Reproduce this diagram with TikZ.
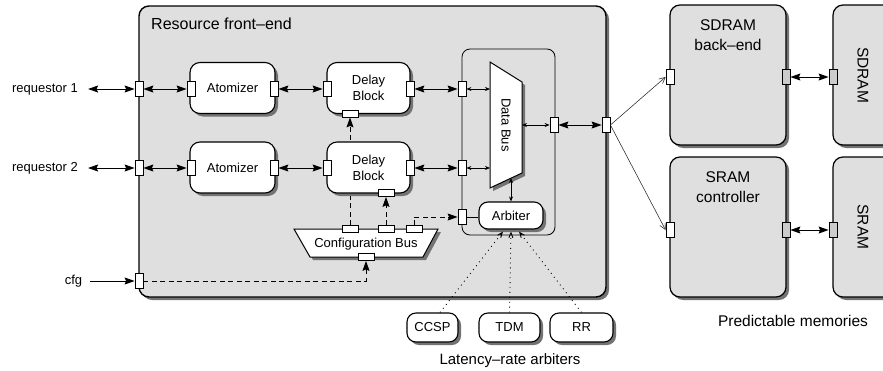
\documentclass[tikz,border=0pt]{standalone}
\usepackage{fontspec}
\setmainfont{Liberation Sans}
\usetikzlibrary{arrows.meta,shadows}
\pgfdeclarelayer{back}
\pgfdeclarelayer{behind}
\pgfsetlayers{back,behind,main}
\begin{document}
\begin{tikzpicture}[x=1pt,y=-1pt,
  lbl/.style={font=\fontsize{13}{15}\selectfont, inner sep=0pt},
  big/.style={font=\fontsize{15.5}{20}\selectfont, inner sep=0pt},
  shad/.style={drop shadow={shadow xshift=3pt,shadow yshift=-3pt,fill=black!55,opacity=1}},
  wbox/.style={draw, line width=1.1pt, fill=white, rounded corners=10pt, shad, inner sep=0pt},
  gbox/.style={draw, line width=1.2pt, fill=gray!25, rounded corners=10pt, shad, inner sep=0pt},
  port/.style={draw, fill=white, line width=0.8pt, minimum width=8pt, minimum height=15pt, inner sep=0pt},
  hport/.style={port, minimum width=16pt, minimum height=7pt},
  gport/.style={port, fill=gray!40},
  arr/.style={line width=0.9pt, {Stealth[length=10pt,width=7pt,inset=1.5pt]}-{Stealth[length=10pt,width=7pt,inset=1.5pt]}},
  sarr/.style={line width=0.7pt, {Stealth[length=5pt,width=4pt]}-{Stealth[length=5pt,width=4pt]}},
  oarr/.style={line width=0.9pt, -{Stealth[length=10pt,width=7pt,inset=1.5pt]}},
  dline/.style={line width=0.9pt, dash pattern=on 5pt off 3.5pt, -{Stealth[length=10pt,width=7pt,inset=1.5pt]}},
  thinarr/.style={line width=0.55pt, black!85, -{Straight Barb[length=6pt,width=6pt]}},
  dotarr/.style={line width=0.9pt, dash pattern=on 0.9pt off 4pt, -{Straight Barb[length=5pt,width=4pt]}}
]
\useasboundingbox (0,0) rectangle (883,370);

\begin{pgfonlayer}{back}
  \node[gbox, line width=1.4pt, minimum width=467pt, minimum height=291pt] (rfe) at (372.5,151.5) {};
  \node[draw, line width=0.8pt, rounded corners=8pt, minimum width=93pt, minimum height=186pt, inner sep=0pt] (inner) at (508.5,142) {};
  \node[gbox, minimum width=116pt, minimum height=140pt] (sdbe) at (728,75) {};
  \node[gbox, minimum width=116pt, minimum height=140pt] (srct) at (728,227) {};
  \node[gbox, minimum width=70pt, minimum height=140pt] (sdram) at (868,75) {};
  \node[gbox, minimum width=70pt, minimum height=140pt] (sram) at (868,227) {};
\end{pgfonlayer}

\node[font=\fontsize{16}{19}\selectfont, inner sep=0pt, anchor=base west] (title) at (151,29) {Resource front–end};
\node[big, align=center] (sdbet) at (728,35) {SDRAM\\back–end};
\node[big, align=center] (srctt) at (728,187) {SRAM\\controller};
\node[big, rotate=-90] (sdramt) at (863,75) {SDRAM};
\node[big, rotate=-90] (sramt) at (863,227) {SRAM};

% inputs
\node[lbl] (rq1) at (45,89) {requestor 1};
\node[lbl] (rq2) at (45,168) {requestor 2};
\node[lbl] (cfg) at (73.5,281) {cfg};
\node[port] (rq1p) at (139,89) {};
\node[port] (rq2p) at (139,168) {};
\node[port] (cfgp) at (139,281) {};

% atomizers and delay blocks
\node[wbox, minimum width=85pt, minimum height=51pt, lbl] (a1) at (232.5,88) {Atomizer};
\node[wbox, minimum width=85pt, minimum height=51pt, lbl] (a2) at (232.5,167.5) {Atomizer};
\node[wbox, minimum width=83pt, minimum height=51pt, lbl, align=center, font=\fontsize{13}{16}\selectfont] (d1) at (368.5,88) {Delay\\Block};
\node[wbox, minimum width=83pt, minimum height=51pt, lbl, align=center, font=\fontsize{13}{16}\selectfont] (d2) at (368.5,167.5) {Delay\\Block};
\node[port] (a1l) at (191,89) {};
\node[port] (a1r) at (274,89) {};
\node[port] (a2l) at (191,168) {};
\node[port] (a2r) at (274,168) {};
\node[port] (d1l) at (327,89) {};
\node[port] (d1r) at (410,89) {};
\node[port] (d2l) at (327,168) {};
\node[port] (d2r) at (410,168) {};
\node[hport] (d1b) at (350,113.5) {};
\node[hport] (d2b) at (386,193) {};

% data bus
\filldraw[fill=white, line width=1pt, shad] (490,62) -- (522,82) -- (522,173) -- (490,188) -- cycle;
\coordinate (dbl1) at (490,89);
\coordinate (dbl2) at (490,168);
\coordinate (dbr) at (522,125);
\coordinate (dbb) at (511,178);
\node[lbl, rotate=-90] (dbt) at (506,125) {Data Bus};
\node[port] (ip1) at (462,89) {};
\node[port] (ip2) at (462,168) {};
\node[port] (ipa) at (462,217) {};
\node[port] (ipr) at (554,125) {};
\node[port] (op) at (606,125) {};

% arbiter
\node[wbox, rounded corners=9pt, minimum width=64pt, minimum height=27pt, lbl] (arb) at (511,215.5) {Arbiter};

% configuration bus
\filldraw[fill=white, line width=1pt, shad] (294,229) -- (438,229) -- (423,257) -- (310,257) -- cycle;
\node[lbl] (cbt) at (366,244) {Configuration Bus};
\node[hport] (cb1) at (350,229) {};
\node[hport] (cb2) at (386,229) {};
\node[hport] (cb3) at (414,229) {};
\node[hport] (cb4) at (366,257) {};

% memory ports
\node[port] (sbl) at (670,77) {};
\node[gport] (sbr) at (786,77) {};
\node[gport] (sml) at (833,77) {};
\node[port] (srl) at (670,230) {};
\node[gport] (srr) at (786,230) {};
\node[gport] (srml) at (833,230) {};

% latency-rate arbiters
\node[wbox, rounded corners=9pt, minimum width=51pt, minimum height=29pt, lbl] (ccsp) at (432.5,327.5) {CCSP};
\node[wbox, rounded corners=9pt, minimum width=61pt, minimum height=29pt, lbl] (tdm) at (509.5,327.5) {TDM};
\node[wbox, rounded corners=9pt, minimum width=63pt, minimum height=29pt, lbl] (rr) at (581.5,327.5) {RR};
\node[font=\fontsize{15}{18}\selectfont, inner sep=0pt, anchor=base] (lra) at (510,364) {Latency–rate arbiters};
\node[font=\fontsize{15.5}{18}\selectfont, inner sep=0pt, anchor=base] (pm) at (793,326) {Predictable memories};

% connectors
\draw[arr] ([xshift=10pt]rq1.east) -- (rq1p.west);
\draw[arr] ([xshift=10pt]rq2.east) -- (rq2p.west);
\draw[oarr] ([xshift=8pt]cfg.east) -- (cfgp.west);
\draw[arr] (rq1p.east) -- (a1l.west);
\draw[arr] (rq2p.east) -- (a2l.west);
\draw[arr] (a1r.east) -- (d1l.west);
\draw[arr] (a2r.east) -- (d2l.west);
\draw[arr] (d1r.east) -- (ip1.west);
\draw[arr] (d2r.east) -- (ip2.west);
\draw[sarr] (ip1.east) -- (dbl1);
\draw[sarr] (ip2.east) -- (dbl2);
\draw[sarr] (dbr) -- (ipr.west);
\draw[sarr] (dbb) -- (arb.north);
\draw[arr] (ipr.east) -- (op.west);
\draw[line width=0.9pt] (ipa.east) -- (ipa.east -| arb.west);
\begin{pgfonlayer}{behind}
  \draw[dline] (cb1.north) -- (d1b.south);
\end{pgfonlayer}
\draw[dline] (cb2.north) -- (d2b.south);
\draw[dline] (cb3.north) |- (ipa.west);
\draw[dline] (cfgp.east) -| (cb4.south);
\draw[thinarr] (op.east) -- (sbl.west);
\draw[thinarr] (op.east) -- (srl.west);
\draw[arr] (sbr.east) -- (sml.west);
\draw[arr] (srr.east) -- (srml.west);
\draw[dotarr] (ccsp.north -| 440,0) -- ([xshift=-8pt,yshift=-2pt]arb.south);
\draw[dotarr] (tdm.north) -- ([yshift=-2pt]arb.south);
\draw[dotarr] (rr.north) -- ([xshift=8pt,yshift=-2pt]arb.south);
\end{tikzpicture}
\end{document}
